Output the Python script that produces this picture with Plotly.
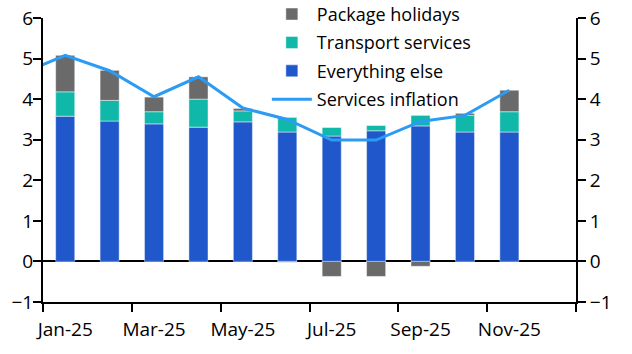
import plotly.graph_objects as go

months = ["Jan-25","Feb-25","Mar-25","Apr-25","May-25","Jun-25","Jul-25","Aug-25","Sep-25","Oct-25","Nov-25","Dec-25"]
everything_else = [3.58, 3.46, 3.39, 3.31, 3.44, 3.19, 3.09, 3.22, 3.34, 3.19, 3.19, None]
transport = [0.60, 0.51, 0.30, 0.69, 0.27, 0.36, 0.21, 0.13, 0.26, 0.41, 0.50, None]
package = [0.90, 0.74, 0.36, 0.55, 0.06, -0.02, -0.37, -0.37, -0.12, 0.05, 0.53, None]
# services inflation, including the Dec-24 value which is clipped at the left edge
line_months = ["Dec-24"] + months[:11]
services = [4.62, 5.08, 4.70, 4.06, 4.55, 3.78, 3.50, 2.99, 2.99, 3.45, 3.60, 4.22]

x_bar = list(range(len(months)))
x_line = list(range(-1, len(line_months) - 1))

FONT = "Open Sans"
fig = go.Figure()
edge = dict(color="rgba(255,255,255,0.45)", width=1)
fig.add_bar(x=x_bar, y=everything_else, name="Everything else", marker=dict(color="#2058CC", line=edge),
            width=0.43, legendrank=3, legendgroup="c")
fig.add_bar(x=x_bar, y=transport, name="Transport services", marker=dict(color="#0FB8A8", line=edge),
            width=0.43, legendrank=2, legendgroup="b")
fig.add_bar(x=x_bar, y=package, name="Package holidays", marker=dict(color="#6A6A6A", line=edge),
            width=0.43, legendrank=1, legendgroup="a")
fig.add_scatter(x=x_line, y=services, name="Services inflation", mode="lines",
                line=dict(color="#2B9BF4", width=3), legendrank=4, legendgroup="d")
fig.add_scatter(x=[0], y=[0], yaxis="y2", showlegend=False, mode="markers",
                marker=dict(opacity=0), hoverinfo="skip")

fig.update_layout(
    barmode="relative",
    width=632, height=354,
    margin=dict(l=43, r=56, t=18, b=52, autoexpand=False),
    paper_bgcolor="white", plot_bgcolor="white",
    font=dict(family=FONT, size=19, color="#000"),
    showlegend=True,
    legend=dict(x=0.42, y=1.078, xanchor="left", yanchor="top", bgcolor="rgba(0,0,0,0)",
                traceorder="grouped", tracegroupgap=2, itemwidth=40,
                font=dict(family=FONT, size=18)),
    xaxis=dict(range=[-0.5, 11.5], tickmode="array", tickvals=[0, 2, 4, 6, 8, 10],
               ticktext=[months[i] for i in [0, 2, 4, 6, 8, 10]], ticks="",
               showline=True, linecolor="black", linewidth=2, showgrid=False, zeroline=False,
               minor=dict(tick0=-0.5, dtick=2, ticks="outside", ticklen=8, tickwidth=2, tickcolor="black"),
               ticklabelstandoff=9),
    yaxis=dict(range=[-1, 6], dtick=1, ticks="outside", ticklen=8, tickwidth=2, tickcolor="black",
               showline=True, linecolor="black", linewidth=2, showgrid=False, ticklabelstandoff=-4,
               zeroline=True, zerolinecolor="black", zerolinewidth=2),
    yaxis2=dict(range=[-1, 6], dtick=1, overlaying="y", side="right", ticks="outside", ticklen=8,
                tickwidth=2, tickcolor="black", showline=True, linecolor="black", linewidth=2,
                showgrid=False, zeroline=False, ticklabelstandoff=0),
)
fig.write_html("out.html")
